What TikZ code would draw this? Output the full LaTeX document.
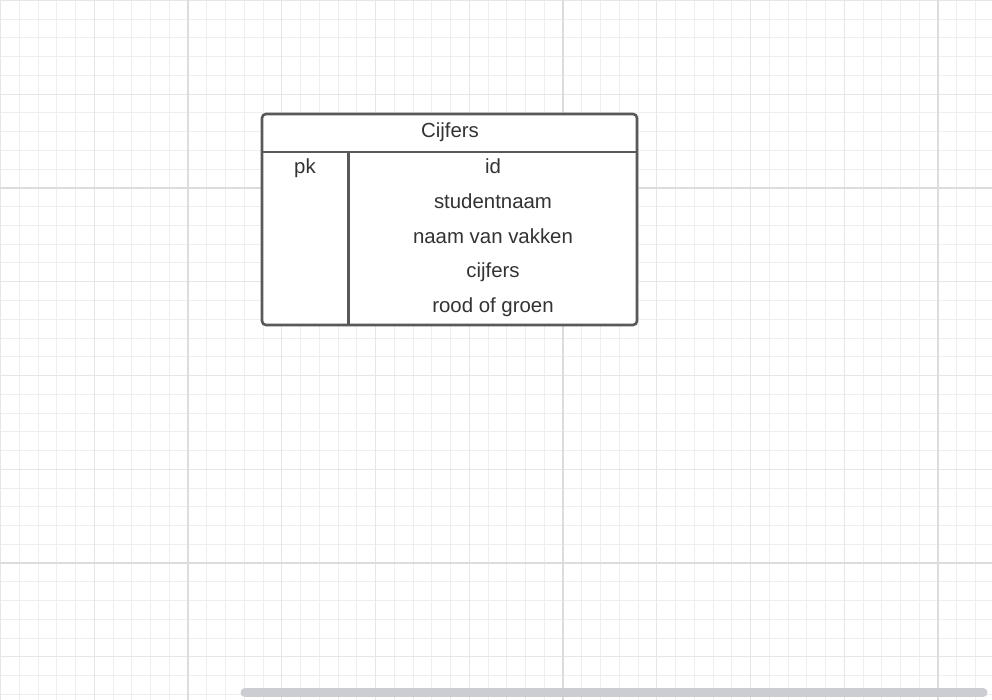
\documentclass[tikz,border=0pt]{standalone}
\usepackage{fontspec}
\setmainfont{Liberation Sans}
\definecolor{gminor}{HTML}{EEEEEE}
\definecolor{gmed}{HTML}{E6E6E6}
\definecolor{gmajor}{HTML}{DCDCDC}
\definecolor{tline}{HTML}{595959}
\definecolor{ttext}{HTML}{333333}
\definecolor{sbar}{HTML}{CBCDD2}
\begin{document}
\begin{tikzpicture}[x=1pt,y=-1pt,
  cell/.style={font=\fontsize{20.4}{24}\selectfont, text=ttext, inner sep=0pt, anchor=base},
  tbl/.style={draw=tline, line width=2.6pt}]
\useasboundingbox (0,0) rectangle (992,700);
\fill[white] (0,0) rectangle (992,700);
% minor grid
\foreach \i in {0,...,53} {
  \draw[gminor, line width=1pt] ({0.5+18.75*\i},0) -- ({0.5+18.75*\i},700);
}
\foreach \i in {0,...,37} {
  \draw[gminor, line width=1pt] (0,{0.5+18.75*\i}) -- (992,{0.5+18.75*\i});
}
% medium grid
\foreach \i in {0,...,10} {
  \draw[gmed, line width=1.2pt] ({0.5+93.75*\i},0) -- ({0.5+93.75*\i},700);
}
\foreach \i in {0,...,7} {
  \draw[gmed, line width=1.2pt] (0,{0.5+93.75*\i}) -- (992,{0.5+93.75*\i});
}
% major grid
\foreach \x in {188,563,938} {
  \draw[gmajor, line width=2pt] (\x,0) -- (\x,700);
}
\foreach \y in {188,563} {
  \draw[gmajor, line width=2pt] (0,\y) -- (992,\y);
}
% table
\fill[white, rounded corners=4pt] (262,114) rectangle (637,325);
\node[cell] (title) at (450,138) {Cijfers};
\node[cell] (pk) at (305,173.5) {pk};
\node[cell] (f1) at (493,173.5) {id};
\node[cell] (f2) at (493,208.3) {studentnaam};
\node[cell] (f3) at (493,243.1) {naam van vakken};
\node[cell] (f4) at (493,277.9) {cijfers};
\node[cell] (f5) at (493,312.7) {rood of groen};
\coordinate (hl) at (262,152);
\coordinate (hr) at (637,152);
\coordinate (vt) at (348.5,152);
\coordinate (vb) at (348.5,325);
\draw[tbl] (hl) -- (hr);
\draw[tbl] (vt) -- (vb);
\draw[tbl, rounded corners=4pt] (262,114) rectangle (637,325);
% scrollbar
\draw[sbar, line width=9pt, line cap=round] (245,692.5) -- (983,692.5);
\end{tikzpicture}
\end{document}
